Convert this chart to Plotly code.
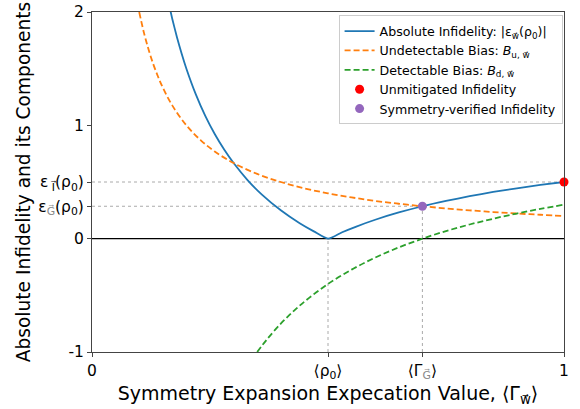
import plotly.graph_objects as go

# Data
abs_x = [0.16, 0.17, 0.18, 0.19, 0.2, 0.22, 0.24, 0.26, 0.28, 0.3, 0.33, 0.36, 0.4, 0.44, 0.47, 0.5,
         0.53, 0.56, 0.6, 0.65, 0.7, 0.75, 0.8, 0.85, 0.9, 0.95, 1.0]
abs_y = [2.125, 1.941, 1.778, 1.632, 1.5, 1.273, 1.083, 0.923, 0.786, 0.667, 0.515, 0.389, 0.25, 0.136, 0.064, 0.0,
         0.057, 0.107, 0.167, 0.231, 0.286, 0.333, 0.375, 0.412, 0.444, 0.474, 0.5]

und_x = [0.1, 0.11, 0.12, 0.13, 0.14, 0.15, 0.17, 0.2, 0.23, 0.26, 0.3, 0.35, 0.4, 0.45, 0.5, 0.55,
         0.6, 0.65, 0.7, 0.75, 0.8, 0.85, 0.9, 0.95, 1.0]
und_y = [2.0, 1.818, 1.667, 1.538, 1.429, 1.333, 1.176, 1.0, 0.870, 0.769, 0.667, 0.571, 0.5, 0.444, 0.4, 0.364,
         0.333, 0.308, 0.286, 0.267, 0.25, 0.235, 0.222, 0.211, 0.2]

det_x = [0.35, 0.37, 0.4, 0.43, 0.46, 0.5, 0.55, 0.6, 0.65, 0.7, 0.75, 0.8, 0.85, 0.9, 0.95, 1.0]
det_y = [-1.0, -0.892, -0.75, -0.628, -0.522, -0.4, -0.273, -0.167, -0.077, 0.0, 0.067, 0.125, 0.176, 0.222, 0.263, 0.3]

rho0 = 0.5        # <rho_0>
gamma_g = 0.7     # <Gamma_G>
eps_i = 0.5       # unmitigated infidelity
eps_g = 0.286     # symmetry-verified infidelity

x_tickvals = [0, rho0, gamma_g, 1]
x_ticktext = ["0", "⟨ρ<sub>0</sub>⟩", "⟨Γ<sub><span style='color:#888'>G⃗</span></sub>⟩", "1"]
y_tickvals = [-1, 0, eps_g, eps_i, 1, 2]
y_ticktext = ["-1", "0", "ε<sub><span style='color:#888'>G⃗</span></sub>(ρ<sub>0</sub>)",
              "ε<sub> I⃗</sub>(ρ<sub>0</sub>)", "1", "2"]

FONT = "DejaVu Sans"
GUIDE = dict(color="#aaa", width=1, dash="dot")
DASH = "6px,3px"
fig = go.Figure()

# guide lines
fig.add_trace(go.Scatter(x=[0, 1], y=[eps_i, eps_i], mode="lines", line=GUIDE, showlegend=False, hoverinfo="skip"))
fig.add_trace(go.Scatter(x=[0, gamma_g], y=[eps_g, eps_g], mode="lines", line=GUIDE, showlegend=False, hoverinfo="skip"))
fig.add_trace(go.Scatter(x=[rho0, rho0], y=[-1, 0], mode="lines", line=GUIDE, showlegend=False, hoverinfo="skip"))
fig.add_trace(go.Scatter(x=[gamma_g, gamma_g], y=[-1, eps_g], mode="lines", line=GUIDE, showlegend=False, hoverinfo="skip"))
fig.add_trace(go.Scatter(x=[0, 1], y=[0, 0], mode="lines",
                         line=dict(color="black", width=1.2), showlegend=False, hoverinfo="skip"))

fig.add_trace(go.Scatter(x=abs_x, y=abs_y, mode="lines", line=dict(color="#1f77b4", width=1.8, shape="spline", smoothing=0.6),
                         name="Absolute Infidelity: |ε<sub>w⃗</sub>(ρ<sub>0</sub>)|"))
fig.add_trace(go.Scatter(x=und_x, y=und_y, mode="lines", line=dict(color="#ff7f0e", width=1.8, dash=DASH, shape="spline"),
                         name="Undetectable Bias: <i>B</i><sub>u, w⃗</sub>"))
fig.add_trace(go.Scatter(x=det_x, y=det_y, mode="lines", line=dict(color="#2ca02c", width=1.8, dash=DASH, shape="spline"),
                         name="Detectable Bias: <i>B</i><sub>d, w⃗</sub>"))
fig.add_trace(go.Scatter(x=[1], y=[eps_i], mode="markers", marker=dict(color="red", size=9),
                         name="Unmitigated Infidelity", cliponaxis=False))
fig.add_trace(go.Scatter(x=[gamma_g], y=[eps_g], mode="markers", marker=dict(color="#9467bd", size=9),
                         name="Symmetry-verified Infidelity", cliponaxis=False))

axis_common = dict(showgrid=False, zeroline=False, showline=True, linecolor="#444", linewidth=1,
                   mirror=True, ticks="outside", ticklen=4, tickcolor="#444",
                   tickfont=dict(family=FONT, size=15.5, color="black"))
fig.update_xaxes(range=[0, 1], tickvals=x_tickvals, ticktext=x_ticktext,
                 title=dict(text="Symmetry Expansion Expecation Value, ⟨Γ<sub>w⃗</sub>⟩",
                            font=dict(family=FONT, size=19, color="black"), standoff=4),
                 **axis_common)
fig.update_yaxes(range=[-1, 2], tickvals=y_tickvals, ticktext=y_ticktext,
                 title=dict(text="Absolute Infidelity and its Components",
                            font=dict(family=FONT, size=18.6, color="black"), standoff=2),
                 **axis_common)

fig.update_layout(
    width=580, height=409,
    margin=dict(l=92, r=16, t=12, b=57, autoexpand=False),
    paper_bgcolor="white", plot_bgcolor="white",
    font=dict(family=FONT, color="black"),
    legend=dict(x=0.997, y=0.99, xanchor="right", yanchor="top",
                bgcolor="rgba(255,255,255,0.8)", bordercolor="#ccc", borderwidth=1,
                font=dict(family=FONT, size=12.6, color="black"), tracegroupgap=0, itemwidth=30),
)

fig.write_html("out.html")
